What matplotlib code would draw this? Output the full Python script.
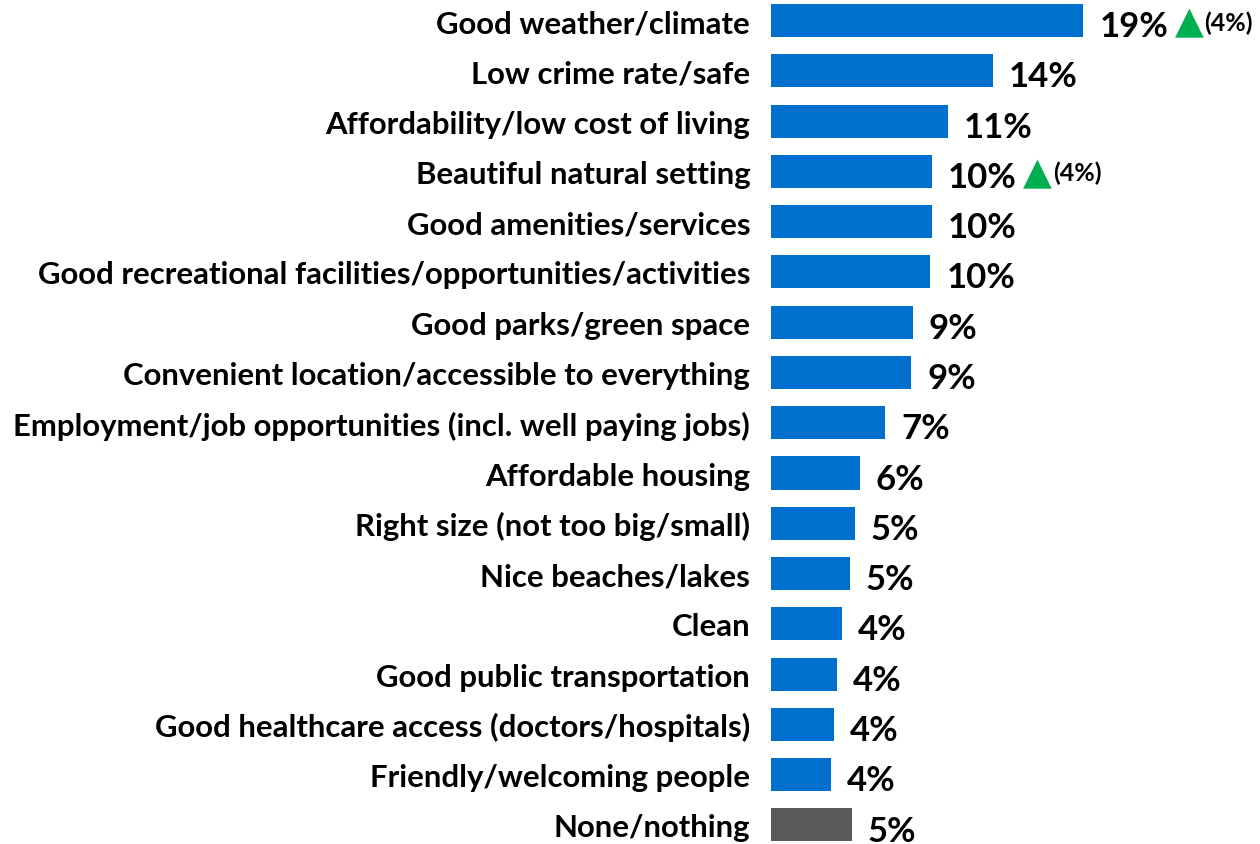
import matplotlib
matplotlib.use('Agg')
import matplotlib.pyplot as plt
import numpy as np

# Data
categories = [
    'Good weather/climate',
    'Low crime rate/safe',
    'Affordability/low cost of living',
    'Beautiful natural setting',
    'Good amenities/services',
    'Good recreational facilities/opportunities/activities',
    'Good parks/green space',
    'Convenient location/accessible to everything',
    'Employment/job opportunities (incl. well paying jobs)',
    'Affordable housing',
    'Right size (not too big/small)',
    'Nice beaches/lakes',
    'Clean',
    'Good public transportation',
    'Good healthcare access (doctors/hospitals)',
    'Friendly/welcoming people',
    'None/nothing',
]
values = [19.4, 13.8, 11.0, 10.0, 10.0, 9.9, 8.8, 8.7, 7.1, 5.5, 5.2, 4.9, 4.4, 4.1, 3.9, 3.7, 5.0]
value_labels = ['19%', '14%', '11%', '10%', '10%', '10%', '9%', '9%', '7%', '6%',
                '5%', '5%', '4%', '4%', '4%', '4%', '5%']
changes = ['(4%)', None, None, '(4%)', None, None, None, None, None, None,
           None, None, None, None, None, None, None]

blue = '#0070CE'
grey = '#58595B'
green = '#00B050'
colors = [blue] * (len(categories) - 1) + [grey]

plt.rcParams['font.family'] = ['Lato', 'DejaVu Sans']

fig = plt.figure(figsize=(12.6, 8.45), dpi=100)
ax = fig.add_axes([771 / 1260, -0.0072, 489 / 1260, 1.0115])

y = np.arange(len(categories))
ax.barh(y, values, height=0.657, color=colors)

ax.set_xlim(0, 489 / 16.1)
ax.set_ylim(len(categories) - 0.5, -0.5)
ax.set_yticks(y)
ax.set_yticklabels(categories, fontsize=22.4, fontweight='bold')
ax.tick_params(axis='y', length=0, pad=15)
ax.set_xticks([])
for s in ax.spines.values():
    s.set_visible(False)

for yi, v, lab, ch in zip(y, values, value_labels, changes):
    ax.annotate(lab, xy=(v, yi), xytext=(11.5, -4), textcoords='offset points',
                ha='left', va='center', fontsize=25, fontweight='bold')
    if ch:
        ax.annotate('\u25B2', xy=(v, yi), xytext=(76, -1.5), textcoords='offset points',
                    ha='center', va='center', fontsize=27, color=green,
                    family='DejaVu Sans')
        ax.annotate(ch, xy=(v, yi), xytext=(87, -1), textcoords='offset points',
                    ha='left', va='center', fontsize=18, fontweight='bold')

fig.savefig('out.png', dpi=100)
